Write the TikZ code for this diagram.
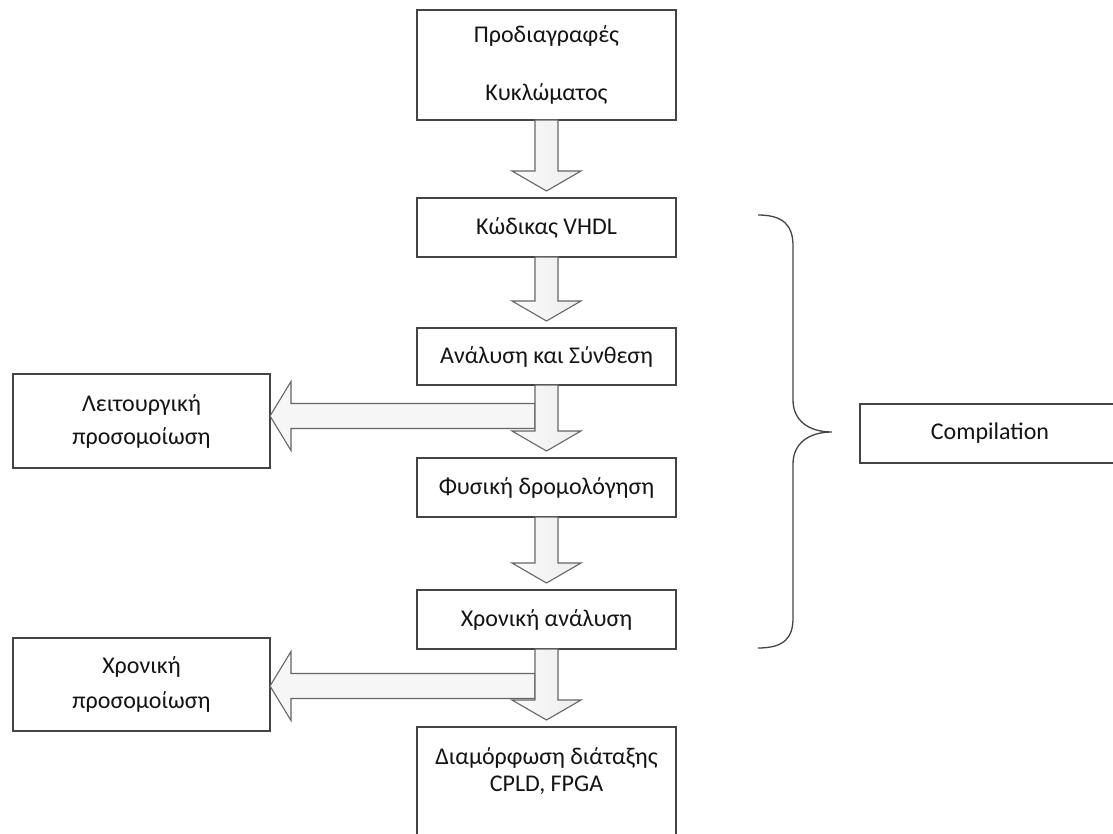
\documentclass[tikz,border=0pt]{standalone}
\usepackage{fontspec}
\setmainfont{Carlito}
\usetikzlibrary{calc}
\definecolor{boxc}{HTML}{444444}
\definecolor{arrc}{HTML}{666666}
\definecolor{txtc}{HTML}{141414}
\tikzset{
  box/.style={draw=boxc, line width=1.4pt, rectangle, outer sep=0pt, inner sep=0pt,
              minimum width=259pt, align=center, text=txtc, font=\fontsize{24}{27}\selectfont},
  sidebox/.style={box, minimum width=257pt},
  txt/.style={align=center, text=txtc, inner sep=0pt},
  fatarr/.style={draw=arrc, line width=1.1pt, line join=miter, left color=gray!4, right color=gray!14},
  bracestyle/.style={draw=boxc, line width=1.3pt}
}
\newcommand\fatdown[2]{%
  \draw[fatarr] let \p1=(#1.south), \p2=(#2.north) in
    (\x1-11.5pt,\y1) -- (\x1+11.5pt,\y1) -- (\x1+11.5pt,\y2+27pt) -- (\x1+34.5pt,\y2+27pt)
    -- (\x1,\y2+7pt) -- (\x1-34.5pt,\y2+27pt) -- (\x1-11.5pt,\y2+27pt) -- cycle;}
\newcommand\fatleft[2]{%
  \draw[draw=arrc, line width=1.1pt, line join=miter, fill=gray!7] let \p1=(#1), \p2=(#2.east) in
    (\x1,\y1+12.5pt) -- (\x2+21pt,\y1+12.5pt) -- (\x2+21pt,\y1+34.5pt) -- (\x2,\y1)
    -- (\x2+21pt,\y1-34.5pt) -- (\x2+21pt,\y1-12.5pt) -- (\x1,\y1-12.5pt) -- cycle;}
\begin{document}
\begin{tikzpicture}[x=1pt,y=1pt]
\useasboundingbox (0,0) rectangle (1113,-834);
\fill[white] (0,0) rectangle (1113,-834);

% main column
\node[box, minimum height=110pt, font=\fontsize{24}{58}\selectfont] (b1) at (546.5,-65) {Προδιαγραφές\\Κυκλώματος};
\node[box, minimum height=59pt] (b2) at (546.5,-227.5) {Κώδικας VHDL};
\node[box, minimum height=57pt] (b3) at (546.5,-356.5) {Ανάλυση και Σύνθεση};
\node[box, minimum height=59pt] (b4) at (546.5,-487.5) {Φυσική δρομολόγηση};
\node[box, minimum height=59pt] (b5) at (546.5,-619.5) {Χρονική ανάλυση};
\node[box, minimum height=133pt] (b6) at (546.5,-793.5) {};
\node[txt, font=\fontsize{24}{27}\selectfont] (t6) at (546.5,-771.5) {Διαμόρφωση διάταξης\\CPLD, FPGA};

% side boxes
\node[sidebox, minimum height=94pt, font=\fontsize{24}{33}\selectfont] (l1) at (141.5,-421) {Λειτουργική\\προσομοίωση};
\node[sidebox, minimum height=93pt, font=\fontsize{24}{35}\selectfont] (l2) at (141.5,-684.5) {Χρονική\\προσομοίωση};
\node[box, minimum width=260pt, minimum height=59pt] (comp) at (990,-433.5) {Compilation};

% side arrows
\coordinate (la1) at ($(b3.south)+(-11.5,-31)$);
\coordinate (la2) at ($(b5.south)+(-11.5,-37)$);
\fatleft{la1}{l1}
\fatleft{la2}{l2}

% down arrows
\fatdown{b1}{b2}
\fatdown{b2}{b3}
\fatdown{b3}{b4}
\fatdown{b4}{b5}
\fatdown{b5}{b6}

% brace
\coordinate (brtop) at (758,-215);
\coordinate (brtip) at (832,-432);
\coordinate (brbot) at (758,-648);
\draw[bracestyle] (brtop) .. controls (784,-215) and (793,-226) .. (793,-246)
  -- (793,-400) .. controls (793,-420) and (808,-432) .. (brtip)
  .. controls (808,-432) and (793,-444) .. (793,-464)
  -- (793,-618) .. controls (793,-638) and (784,-648) .. (brbot);
\end{tikzpicture}
\end{document}
